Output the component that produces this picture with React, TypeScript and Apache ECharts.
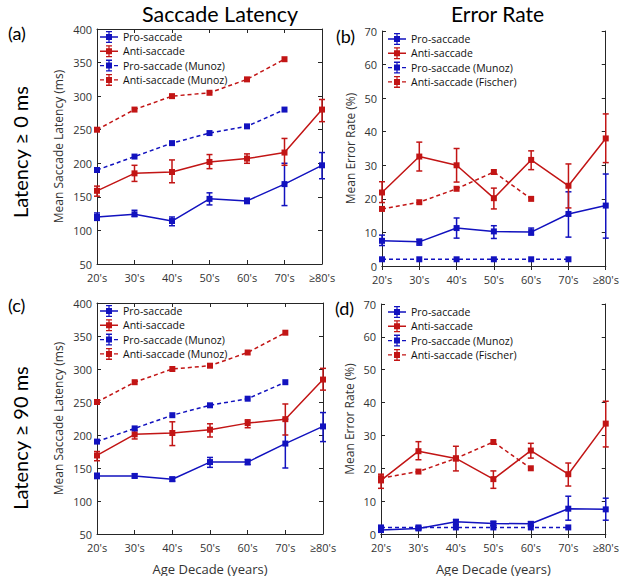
import React, { useEffect, useRef } from "react";
import * as echarts from "echarts";

const categories = ["20's", "30's", "40's", "50's", "60's", "70's", "≥80's"];
const latencyTicks = { min: 50, max: 400, interval: 50 };
const errorTicks = { min: 0, max: 70, interval: 10 };

// Panel (a): latency >= 0 ms
const aPro = [120, 124, 114, 147, 144, 169, 197];
const aProLo = [115, 121, 107, 138, 140, 137, 177];
const aProHi = [126, 130, 120, 156, 148, 200, 216];
const aAnti = [159, 185, 187, 202, 207, 216, 280];
const aAntiLo = [151, 173, 171, 192, 200, 197, 262];
const aAntiHi = [166, 197, 205, 213, 214, 237, 295];

// Reference latencies (Munoz)
const latProMunoz = [190, 210, 230, 245, 255, 280];
const latAntiMunoz = [250, 280, 300, 305, 325, 355];

// Panel (b): error rate, latency >= 0 ms
const bPro = [7.5, 7.2, 11.3, 10.3, 10.1, 15.5, 18];
const bProLo = [6.1, 6.2, 8.3, 8.2, 9.2, 8.6, 8.3];
const bProHi = [9.2, 8, 14.3, 12, 11.3, 22.1, 27.4];
const bAnti = [21.9, 32.6, 30, 20.2, 31.6, 23.9, 38];
const bAntiLo = [18.9, 28.3, 25, 17, 28.7, 17.3, 30.8];
const bAntiHi = [25.1, 36.9, 35, 23.2, 34.3, 30.4, 45.3];

// Reference error rates
const errProMunoz = [2, 2, 2, 2, 2, 2];
const errAntiFischer = [17, 19, 23, 28, 20];

// Panel (c): latency >= 90 ms
const cPro = [138, 138, 133, 159, 159, 187, 213];
const cProLo = [134, 135, 130, 151, 155, 150, 190];
const cProHi = [142, 141, 136, 166, 163, 224, 234];
const cAnti = [169, 201, 203, 208, 218, 224, 284];
const cAntiLo = [161, 194, 184, 197, 211, 200, 268];
const cAntiHi = [175, 207, 220, 217, 223, 247, 301];

// Panel (d): error rate, latency >= 90 ms
const dPro = [1.2, 1.7, 3.7, 3.2, 3.1, 7.7, 7.5];
const dProLo = [0.8, 1.3, 2.8, 2.6, 2.5, 4.2, 4.2];
const dProHi = [2, 2.2, 4.4, 3.8, 3.7, 11.5, 10.9];
const dAnti = [16.3, 25.2, 23, 16.7, 25.4, 18.2, 33.6];
const dAntiLo = [13.9, 22.6, 19.2, 13.9, 23.1, 14.6, 26.5];
const dAntiHi = [18.2, 28.1, 26.7, 19.2, 27.6, 21.6, 40.4];

const BLUE = "#1212bf";
const RED = "#c21515";
const AXIS = "#262626";
const LABEL = "#333333";
const FONT = "'Open Sans', 'DejaVu Sans', sans-serif";
const TITLE_FONT = "Lato, 'Open Sans', sans-serif";

// legend icons: line + error bar + square marker (18 x 12 box)
const ICON_SOLID =
  "path://M0 5.3H18V6.7H0Z M8.4 0H9.6V12H8.4Z M6 0H12V1.3H6Z M6 10.7H12V12H6Z M6 3H12V9H6Z";
const ICON_DASHED =
  "path://M0 5.3H4V6.7H0Z M14 5.3H18V6.7H14Z M8.4 0H9.6V12H8.4Z M6 0H12V1.3H6Z M6 10.7H12V12H6Z M6 3H12V9H6Z";

const grids = [
  { left: 97, top: 29, width: 225, height: 235 },
  { left: 382, top: 31, width: 230, height: 235 },
  { left: 97, top: 303, width: 226, height: 236 },
  { left: 381, top: 304, width: 231, height: 234 },
];

function errorBarSeries(idx: number, lo: number[], hi: number[], color: string) {
  return {
    type: "custom",
    xAxisIndex: idx * 2,
    yAxisIndex: idx * 2,
    z: 3,
    silent: true,
    encode: { x: 0, y: [1, 2] },
    data: lo.map((l, i) => [i, l, hi[i]]),
    renderItem: (params: any, api: any) => {
      const x = api.value(0);
      const p1 = api.coord([x, api.value(1)]);
      const p2 = api.coord([x, api.value(2)]);
      const w = 3;
      const style = { stroke: color, lineWidth: 1.5 };
      return {
        type: "group",
        children: [
          { type: "line", shape: { x1: p1[0], y1: p1[1], x2: p2[0], y2: p2[1] }, style },
          { type: "line", shape: { x1: p1[0] - w, y1: p1[1], x2: p1[0] + w, y2: p1[1] }, style },
          { type: "line", shape: { x1: p2[0] - w, y1: p2[1], x2: p2[0] + w, y2: p2[1] }, style },
        ],
      };
    },
  };
}

function lineSeries(idx: number, name: string, data: number[], color: string, dashed: boolean) {
  return {
    type: "line",
    name,
    xAxisIndex: idx * 2,
    yAxisIndex: idx * 2,
    data,
    z: 4,
    symbol: "rect",
    symbolSize: 6,
    itemStyle: { color },
    lineStyle: { color, width: 1.5, type: dashed ? [4, 3] : "solid" },
  };
}

export default function App() {
  const ref = useRef<HTMLDivElement>(null);
  useEffect(() => {
    if (!ref.current) return;
    const chart = echarts.init(ref.current, null, { renderer: "svg" });

    const xAxes: any[] = [];
    const yAxes: any[] = [];
    grids.forEach((g, i) => {
      const isLat = i % 2 === 0;
      const ticks = isLat ? latencyTicks : errorTicks;
      const bottomRow = i >= 2;
      xAxes.push({
        type: "category",
        gridIndex: i,
        data: categories,
        boundaryGap: false,
        position: "bottom",
        axisLine: { show: true, lineStyle: { color: AXIS, width: 1 } },
        axisTick: { show: true, inside: true, length: 4, lineStyle: { color: AXIS } },
        axisLabel: { interval: 0, color: LABEL, fontSize: 11, fontFamily: FONT, margin: 8 },
        splitLine: { show: false },
        name: bottomRow ? "Age Decade (years)" : "",
        nameLocation: "middle",
        nameGap: 28,
        nameTextStyle: { color: LABEL, fontSize: 13, fontFamily: FONT },
      });
      xAxes.push({
        type: "category",
        gridIndex: i,
        data: categories,
        boundaryGap: false,
        position: "top",
        axisLine: { show: true, lineStyle: { color: AXIS, width: 1 } },
        axisTick: { show: true, inside: true, length: 4, lineStyle: { color: AXIS } },
        axisLabel: { show: false },
        splitLine: { show: false },
      });
      yAxes.push({
        type: "value",
        gridIndex: i,
        min: ticks.min,
        max: ticks.max,
        interval: ticks.interval,
        position: "left",
        axisLine: { show: true, lineStyle: { color: AXIS, width: 1 } },
        axisTick: { show: true, inside: true, length: 4, lineStyle: { color: AXIS } },
        axisLabel: { color: LABEL, fontSize: 11, fontFamily: FONT, margin: 5 },
        splitLine: { show: false },
        name: isLat ? "Mean Saccade Latency (ms)" : "Mean Error Rate (%)",
        nameLocation: "middle",
        nameGap: isLat ? 33 : 26,
        nameTextStyle: { color: LABEL, fontSize: 12, fontFamily: FONT },
      });
      yAxes.push({
        type: "value",
        gridIndex: i,
        min: ticks.min,
        max: ticks.max,
        interval: ticks.interval,
        position: "right",
        axisLine: { show: true, lineStyle: { color: AXIS, width: 1 } },
        axisTick: { show: true, inside: true, length: 4, lineStyle: { color: AXIS } },
        axisLabel: { show: false },
        splitLine: { show: false },
      });
    });

    const series: any[] = [
      // (a)
      errorBarSeries(0, aProLo, aProHi, BLUE),
      errorBarSeries(0, aAntiLo, aAntiHi, RED),
      lineSeries(0, "Pro-saccade", aPro, BLUE, false),
      lineSeries(0, "Anti-saccade", aAnti, RED, false),
      lineSeries(0, "Pro-saccade (Munoz)", latProMunoz, BLUE, true),
      lineSeries(0, "Anti-saccade (Munoz)", latAntiMunoz, RED, true),
      // (b)
      errorBarSeries(1, bProLo, bProHi, BLUE),
      errorBarSeries(1, bAntiLo, bAntiHi, RED),
      lineSeries(1, "Pro-saccade", bPro, BLUE, false),
      lineSeries(1, "Anti-saccade", bAnti, RED, false),
      lineSeries(1, "Pro-saccade (Munoz)", errProMunoz, BLUE, true),
      lineSeries(1, "Anti-saccade (Fischer)", errAntiFischer, RED, true),
      // (c)
      errorBarSeries(2, cProLo, cProHi, BLUE),
      errorBarSeries(2, cAntiLo, cAntiHi, RED),
      lineSeries(2, "Pro-saccade", cPro, BLUE, false),
      lineSeries(2, "Anti-saccade", cAnti, RED, false),
      lineSeries(2, "Pro-saccade (Munoz)", latProMunoz, BLUE, true),
      lineSeries(2, "Anti-saccade (Munoz)", latAntiMunoz, RED, true),
      // (d)
      errorBarSeries(3, dProLo, dProHi, BLUE),
      errorBarSeries(3, dAntiLo, dAntiHi, RED),
      lineSeries(3, "Pro-saccade", dPro, BLUE, false),
      lineSeries(3, "Anti-saccade", dAnti, RED, false),
      lineSeries(3, "Pro-saccade (Munoz)", errProMunoz, BLUE, true),
      lineSeries(3, "Anti-saccade (Fischer)", errAntiFischer, RED, true),
    ];

    const legendBase = {
      orient: "vertical",
      itemWidth: 18,
      itemHeight: 12,
      itemGap: 2.3,
      padding: 0,
      selectedMode: false,
      textStyle: { color: "#111", fontSize: 10.5, fontFamily: FONT },
    };
    const mkItems = (names: string[]) =>
      names.map((n, k) => ({ name: n, icon: k < 2 ? ICON_SOLID : ICON_DASHED }));
    const latNames = ["Pro-saccade", "Anti-saccade", "Pro-saccade (Munoz)", "Anti-saccade (Munoz)"];
    const errNames = ["Pro-saccade", "Anti-saccade", "Pro-saccade (Munoz)", "Anti-saccade (Fischer)"];
    const legends = [
      { ...legendBase, left: 100, top: 31, data: mkItems(latNames) },
      { ...legendBase, left: 388, top: 33, data: mkItems(errNames) },
      { ...legendBase, left: 100, top: 305, data: mkItems(latNames) },
      { ...legendBase, left: 388, top: 306, data: mkItems(errNames) },
    ];

    const textStyle = (size: number) => ({ fill: "#000", fontSize: size, fontFamily: TITLE_FONT });
    const graphic: any[] = [
      { type: "text", left: 142, top: 3, style: { text: "Saccade Latency", ...textStyle(21.5) } },
      { type: "text", left: 451, top: 3, style: { text: "Error Rate", ...textStyle(21) } },
      { type: "text", left: 8, top: 24, style: { text: "(a)", ...textStyle(18) } },
      { type: "text", left: 336, top: 27, style: { text: "(b)", ...textStyle(18) } },
      { type: "text", left: 8, top: 296, style: { text: "(c)", ...textStyle(18) } },
      { type: "text", left: 335, top: 299, style: { text: "(d)", ...textStyle(18) } },
      {
        type: "text",
        x: 20,
        y: 152,
        rotation: Math.PI / 2,
        style: { text: "Latency ≥ 0 ms", align: "center", verticalAlign: "middle", ...textStyle(20) },
      },
      {
        type: "text",
        x: 20,
        y: 438,
        rotation: Math.PI / 2,
        style: { text: "Latency ≥ 90 ms", align: "center", verticalAlign: "middle", ...textStyle(20) },
      },
    ];

    chart.setOption({
      animation: false,
      backgroundColor: "#ffffff",
      grid: grids.map((g) => ({ ...g, containLabel: false })),
      xAxis: xAxes,
      yAxis: yAxes,
      legend: legends,
      series,
      graphic,
    });
    return () => chart.dispose();
  }, []);
  return <div ref={ref} style={{ width: 622, height: 576, position: "absolute", left: 0, top: 0 }} />;
}
